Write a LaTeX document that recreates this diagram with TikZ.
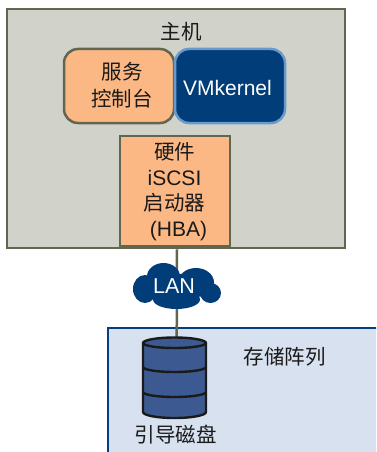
\documentclass[tikz,border=0pt]{standalone}
\usepackage{fontspec}
\setmainfont{Liberation Sans}
\newfontfamily\cjk{Noto Sans CJK SC}
\definecolor{hostfill}{HTML}{D1D3CA}
\definecolor{olive}{HTML}{62654F}
\definecolor{peach}{HTML}{FBB884}
\definecolor{navy}{HTML}{003D79}
\definecolor{lightblue}{HTML}{6A9ACB}
\definecolor{arrayfill}{HTML}{D8E1F0}
\definecolor{arrayline}{HTML}{004080}
\definecolor{diskfill}{HTML}{3C5A91}
\definecolor{ink}{HTML}{1A1A1A}
\tikzset{
  box/.style={draw=olive,fill=peach,line width=2.5pt,inner sep=0pt,align=center,text=ink},
  lbl/.style={inner sep=0pt,text=ink,font=\fontsize{20.5}{24}\selectfont\cjk},
  wire/.style={draw=olive,line width=2.5pt},
  disk/.style={draw=ink,line width=2.4pt,fill=diskfill}
}
\begin{document}
\begin{tikzpicture}[x=1pt,y=-1pt]
\useasboundingbox (0,0) rectangle (376,452);
\node[draw=olive,fill=hostfill,line width=2.5pt,minimum width=338pt,minimum height=239pt,inner sep=0pt] (host) at (176,128.5) {};
\begin{scope}
\clip (0,0) rectangle (376,452);
\node[draw=arrayline,fill=arrayfill,line width=2.4pt,minimum width=300pt,minimum height=160pt,inner sep=0pt,anchor=north west] (array) at (107,326.5) {};
\end{scope}
\node[lbl] (hostlabel) at (181,32) {主机};
\node[box,rounded corners=14pt,minimum width=110pt,minimum height=74pt] (console) at (119,86) {};
\node[lbl,align=center,font=\fontsize{20.5}{27}\selectfont\cjk] (consoletext) at (122,85) {服务\\控制台};
\node[draw=lightblue,fill=navy,line width=2.5pt,rounded corners=14pt,minimum width=110pt,minimum height=74pt,inner sep=0pt] (vmk) at (230,86) {};
\node[inner sep=0pt,text=white,font=\fontsize{21}{24}\selectfont] (vmktext) at (227.5,88) {VMkernel};
\node[box,minimum width=110pt,minimum height=110pt] (hba) at (175,191) {};
\node[lbl,align=center,font=\fontsize{20.5}{25.7}\selectfont\cjk] (hbatext) at (174.5,191.5) {硬件\\{\fontspec{Liberation Sans}\fontsize{21}{25.7}\selectfont iSCSI}\\启动器\\\hspace*{8pt}{\fontspec{Liberation Sans}\fontsize{21}{25.7}\selectfont (HBA)}};
\coordinate (cloudc) at (177,288);
\coordinate (disktop) at (176.7,340);
\draw[wire] (host.south -| cloudc) -- (disktop);
\fill[navy]
  (145,289) circle [x radius=12pt,y radius=14pt]
  (163.5,276.5) circle [x radius=16.5pt,y radius=13.5pt]
  (196,282.5) circle [x radius=18pt,y radius=14.5pt]
  (210.5,293) circle [x radius=10.5pt,y radius=10pt]
  (176.5,299.5) circle [x radius=23.5pt,y radius=9.5pt]
  (177,288) circle [x radius=28pt,y radius=14pt];
\node[inner sep=0pt,text=white,font=\fontsize{21.5}{24}\selectfont] (lan) at (174,285.7) {LAN};
\node[lbl] (arraylabel) at (284.5,357) {存储阵列};
\path[disk] (143,343) arc [start angle=180,end angle=0,x radius=31.5pt,y radius=5.5pt] -- (206,412)
  arc [start angle=0,end angle=-180,x radius=31.5pt,y radius=6pt] -- cycle;
\draw[disk,fill=none] (143,343) arc [start angle=180,end angle=360,x radius=31.5pt,y radius=5pt];
\draw[disk,fill=none] (143,367) arc [start angle=180,end angle=360,x radius=31.5pt,y radius=5pt];
\draw[disk,fill=none] (143,392) arc [start angle=180,end angle=360,x radius=31.5pt,y radius=5pt];
\node[lbl] (disklabel) at (175.5,435) {引导磁盘};
\end{tikzpicture}
\end{document}
